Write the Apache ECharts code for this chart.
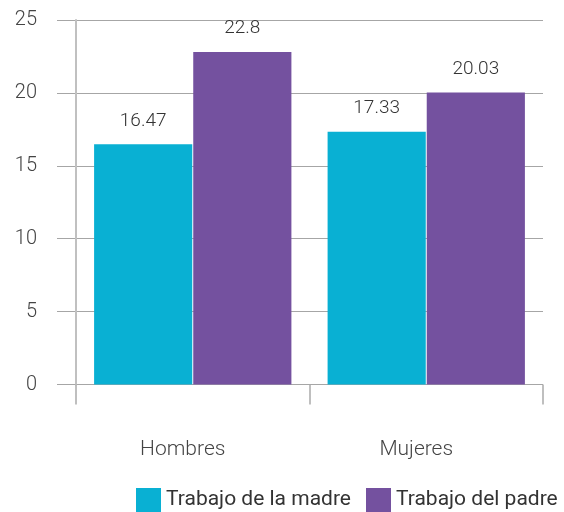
<!DOCTYPE html>
<html>
<head>
<meta charset="utf-8">
<script src="https://cdn.jsdelivr.net/npm/echarts@6/dist/echarts.min.js"></script>
<style>html,body{margin:0;padding:0;background:#fff}#c{width:564px;height:512px}</style>
</head>
<body>
<div id="c"></div>
<script>
var categories = ['Hombres', 'Mujeres'];
var seriesNames = ['Trabajo de la madre', 'Trabajo del padre'];
var madre = [16.47, 17.33];
var padre = [22.8, 20.03];
var yTicks = [0, 5, 10, 15, 20, 25];

var FONT = 'Roboto';
var chart = echarts.init(document.getElementById('c'), null, {renderer: 'canvas'});
var gridTop = 20, gridBottom = 512 - 384.5;
chart.setOption({
  animation: false,
  color: ['#09B0D3', '#74519F'],
  textStyle: {fontFamily: FONT},
  grid: [
    {left: 57, right: 21, top: gridTop, bottom: gridBottom},
    {left: 76, right: 21, top: gridTop, bottom: gridBottom}
  ],
  legend: {
    data: seriesNames,
    left: 131, top: 483,
    icon: 'rect', itemWidth: 25, itemHeight: 24, itemGap: 15,
    textStyle: {fontFamily: FONT, fontSize: 21, fontWeight: 'normal', color: '#333'}
  },
  xAxis: [
    {gridIndex: 0, type: 'category', data: categories, show: false},
    {gridIndex: 1, type: 'category', data: categories,
     axisLine: {show: false},
     axisTick: {show: true, length: 20, lineStyle: {color: '#aaaaaa', width: 1.5}},
     axisLabel: {margin: 55, padding: [0, 20, 0, 0], fontFamily: FONT, fontSize: 21, fontWeight: 300, color: '#444'}}
  ],
  yAxis: [
    {gridIndex: 0, type: 'value', min: yTicks[0], max: yTicks[yTicks.length - 1], interval: 5,
     axisLine: {show: false}, axisTick: {show: false},
     splitLine: {show: true, lineStyle: {color: '#a6a6a6', width: 1.2}},
     axisLabel: {margin: 20, fontFamily: FONT, fontSize: 20, fontWeight: 300, color: '#444'}},
    {gridIndex: 1, type: 'value', min: 0, max: 25, interval: 5,
     axisLine: {show: true, lineStyle: {color: '#c0c0c0', width: 2}},
     axisTick: {show: false}, axisLabel: {show: false}, splitLine: {show: false}}
  ],
  series: [
    {name: seriesNames[0], type: 'bar', xAxisIndex: 1, yAxisIndex: 1, data: madre,
     barGap: '1%', barCategoryGap: '15.5%',
     label: {show: true, position: 'top', distance: 14, fontFamily: FONT, fontSize: 19, fontWeight: 300, color: '#333'}},
    {name: seriesNames[1], type: 'bar', xAxisIndex: 1, yAxisIndex: 1, data: padre,
     barGap: '1%', barCategoryGap: '15.5%',
     label: {show: true, position: 'top', distance: 14, fontFamily: FONT, fontSize: 19, fontWeight: 300, color: '#333'}}
  ]
});
</script>
</body>
</html>
